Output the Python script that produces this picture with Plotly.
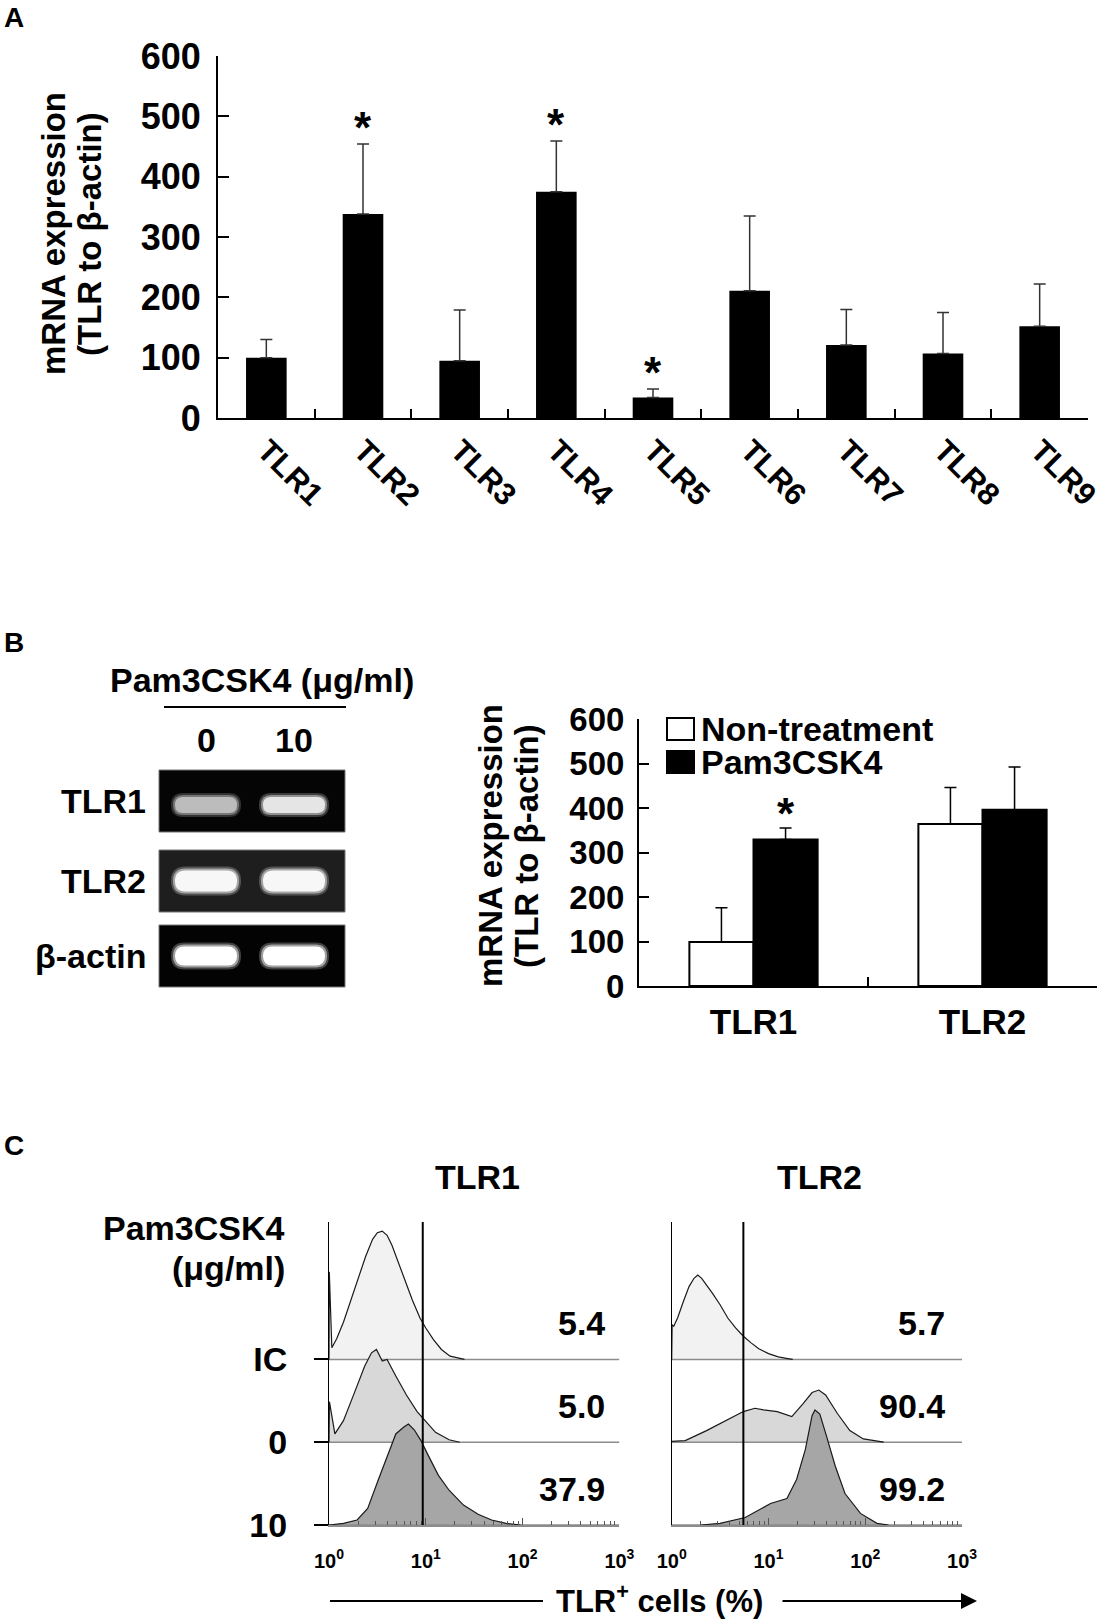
import plotly.graph_objects as go

W, H = 1103, 1621
FONT = "Liberation Sans, Arial, sans-serif"

# ---- panel A: TLR mRNA expression ----
tlr_names = ["TLR1", "TLR2", "TLR3", "TLR4", "TLR5", "TLR6", "TLR7", "TLR8", "TLR9"]
a_mean = [100, 338, 95, 375, 34, 211, 121, 107, 152]
a_sd = [30, 116, 84, 84, 14, 124, 59, 68, 70]
a_sig = [False, True, False, True, True, False, False, False, False]

# ---- panel B: RT-PCR after Pam3CSK4 ----
b_genes = ["TLR1", "TLR2"]
b_ctrl = [99, 364]
b_ctrl_sd = [77, 82]
b_pam = [329, 396]
b_pam_sd = [26, 96]
b_pam_sig = [True, False]

gel_rows = ["TLR1", "TLR2", "β-actin"]
gel_doses = ["0", "10"]
gel_levels = [[0.74, 0.90], [0.97, 0.97], [1.0, 1.0]]

# ---- panel C: flow cytometry histograms (fluorescence, relative count) ----
row_names = ["10", "0", "IC"]  # bottom to top

tlr1_ic_fl = [1.0, 1.007, 1.07, 1.20, 1.41, 1.66, 2.00, 2.40, 2.82, 3.16, 3.55, 3.98,
              4.47, 5.01, 6.03, 7.24, 8.71, 10.0, 12.0, 14.5, 17.8, 22.4, 25.1]
tlr1_ic_h = [0, 1.06, 0.14, 0.25, 0.45, 0.70, 0.98, 1.25, 1.45, 1.53, 1.55, 1.50,
             1.38, 1.22, 0.98, 0.72, 0.50, 0.38, 0.24, 0.12, 0.04, 0.01, 0]
tlr1_0_fl = [1.0, 1.01, 1.15, 1.41, 1.82, 2.34, 2.75, 3.09, 3.55, 3.98, 4.90, 6.31,
             8.13, 9.77, 12.6, 17.4, 22.4]
tlr1_0_h = [0, 0.49, 0.10, 0.26, 0.59, 0.92, 1.08, 1.12, 0.98, 1.00, 0.80, 0.57,
            0.37, 0.27, 0.12, 0.03, 0]
tlr1_10_fl = [1.0, 1.41, 1.95, 2.51, 3.24, 4.17, 4.90, 5.89, 6.61, 7.59, 8.91, 10.5,
              13.5, 17.4, 24.5, 34.7, 47.9, 67.6, 95.5]
tlr1_10_h = [0, 0.02, 0.06, 0.20, 0.55, 0.90, 1.10, 1.18, 1.22, 1.15, 1.02, 0.85,
             0.60, 0.42, 0.24, 0.13, 0.06, 0.02, 0]

tlr2_ic_fl = [1.0, 1.01, 1.05, 1.15, 1.32, 1.51, 1.70, 1.86, 2.04, 2.29, 2.63, 3.16,
              3.80, 4.57, 5.50, 6.61, 7.94, 10.0, 12.6, 15.8, 17.8]
tlr2_ic_h = [0, 0.42, 0.40, 0.50, 0.70, 0.88, 0.98, 1.02, 0.98, 0.90, 0.80, 0.66,
             0.50, 0.38, 0.28, 0.20, 0.13, 0.07, 0.03, 0.01, 0]
tlr2_0_fl = [1.0, 1.38, 2.29, 3.98, 5.50, 7.24, 8.91, 12.3, 17.4, 22.9, 28.2, 33.1,
             38.9, 51.3, 69.2, 95.5, 155]
tlr2_0_h = [0.01, 0.02, 0.14, 0.28, 0.37, 0.41, 0.39, 0.37, 0.31, 0.47, 0.60, 0.63,
            0.57, 0.35, 0.14, 0.04, 0]
tlr2_10_fl = [2.00, 3.16, 5.75, 10.5, 15.5, 19.5, 24.0, 28.2, 30.2, 33.9, 39.8, 49.0,
              61.7, 89.1, 132, 174]
tlr2_10_h = [0, 0.02, 0.09, 0.26, 0.32, 0.55, 0.91, 1.32, 1.39, 1.34, 1.07, 0.71,
             0.38, 0.14, 0.02, 0]

tlr1_gate = 9.3
tlr2_gate = 5.5
tlr1_pct = ["37.9", "5.0", "5.4"]  # rows 10, 0, IC
tlr2_pct = ["99.2", "90.4", "5.7"]
row_fills = ["#a6a6a6", "#d8d8d8", "#f2f2f2"]


def fx(px):
    return px / W


def fy(py):
    return 1 - py / H


def bold(s):
    return "<b>" + s + "</b>"


def label(x, y, text, size, xanchor="center", **kw):
    d = dict(x=fx(x), y=fy(y), xref="paper", yref="paper", text=bold(text),
             showarrow=False, xanchor=xanchor, yanchor="middle",
             font=dict(size=size, family=FONT, color="black"))
    d.update(kw)
    return d


fig = go.Figure()

# panel A bars
fig.add_trace(
    go.Bar(
        x=tlr_names, y=a_mean, width=0.42, offset=-0.21,
        marker=dict(color="black", line=dict(width=0)),
        error_y=dict(type="data", array=a_sd, arrayminus=[0] * len(a_sd),
                     symmetric=False, color="#333333", thickness=1.5, width=6),
        xaxis="x", yaxis="y", showlegend=False,
    )
)

# panel B bars
fig.add_trace(
    go.Bar(
        x=b_genes, y=b_ctrl, width=0.28, offset=-0.28, name="Non-treatment",
        marker=dict(color="white", line=dict(color="black", width=2)),
        error_y=dict(type="data", array=b_ctrl_sd, arrayminus=[0, 0],
                     symmetric=False, color="black", thickness=1.5, width=6),
        xaxis="x2", yaxis="y2", showlegend=False,
    )
)
fig.add_trace(
    go.Bar(
        x=b_genes, y=b_pam, width=0.28, offset=0, name="Pam3CSK4",
        marker=dict(color="black", line=dict(color="black", width=2)),
        error_y=dict(type="data", array=b_pam_sd, arrayminus=[0, 0],
                     symmetric=False, color="black", thickness=1.5, width=6),
        xaxis="x2", yaxis="y2", showlegend=False,
    )
)

# panel C histograms, drawn top row first so lower rows sit in front
hist_sets = [
    ("x3", "y3", [(tlr1_10_fl, tlr1_10_h), (tlr1_0_fl, tlr1_0_h), (tlr1_ic_fl, tlr1_ic_h)]),
    ("x4", "y4", [(tlr2_10_fl, tlr2_10_h), (tlr2_0_fl, tlr2_0_h), (tlr2_ic_fl, tlr2_ic_h)]),
]
for xa, ya, rows in hist_sets:
    for r in [2, 1, 0]:
        fl, h = rows[r]
        fig.add_trace(go.Scatter(
            x=fl + fl[::-1], y=[r + v for v in h] + [r] * len(fl),
            fill="toself", fillcolor=row_fills[r], mode="lines",
            line=dict(width=0), xaxis=xa, yaxis=ya, showlegend=False,
            hoverinfo="skip",
        ))
        fig.add_trace(go.Scatter(
            x=[1, 1000], y=[r, r], mode="lines", line=dict(color="#8c8c8c", width=1.5),
            xaxis=xa, yaxis=ya, showlegend=False, hoverinfo="skip",
        ))
        fig.add_trace(go.Scatter(
            x=fl, y=[r + v for v in h], mode="lines",
            line=dict(color="#1a1a1a", width=1.2),
            xaxis=xa, yaxis=ya, showlegend=False,
        ))


def tfont(size):
    return dict(family=FONT, size=size, color="black", weight="bold")


common = dict(showgrid=False, zeroline=False, showline=True, linecolor="black",
              fixedrange=True)

minor_vals = [m * 10 ** k for k in range(3) for m in range(2, 10)]
flow_x = dict(
    type="log", range=[0, 3], tickvals=[1, 10, 100, 1000],
    ticktext=["10<sup>0</sup>", "10<sup>1</sup>", "10<sup>2</sup>", "10<sup>3</sup>"],
    ticks="inside", ticklen=7, tickwidth=1, tickcolor="#555555",
    tickfont=tfont(20), ticklabelstandoff=17,
    minor=dict(tickvals=minor_vals, ticks="inside", ticklen=4, tickwidth=1,
               tickcolor="#555555"),
    showgrid=False, zeroline=False, showline=True, linecolor="#8c8c8c", linewidth=1.5,
    fixedrange=True,
)
flow_y = dict(range=[0, 3.66], showgrid=False, zeroline=False, showline=True,
              linecolor="black", linewidth=1, fixedrange=True)

fig.update_layout(
    width=W, height=H, margin=dict(l=0, r=0, t=0, b=0, autoexpand=False),
    plot_bgcolor="white", paper_bgcolor="white",
    font=dict(family=FONT, color="black"),
    barmode="overlay",
    xaxis=dict(domain=[fx(218), fx(1088)], range=[-0.5, 8.5], anchor="y",
               ticks="inside", tickson="boundaries", ticklen=9, tickwidth=2,
               tickcolor="black", tickangle=45, tickfont=tfont(31), linewidth=2,
               ticklabelstandoff=0, **common),
    yaxis=dict(domain=[fy(418), fy(56)], range=[0, 600], dtick=100, anchor="x",
               ticks="inside", ticklen=11, tickwidth=2, tickcolor="black",
               tickfont=tfont(36), ticklabelstandoff=8, linewidth=2, **common),
    xaxis2=dict(domain=[fx(639), fx(1097)], range=[-0.5, 1.5], anchor="y2",
                ticks="inside", tickson="boundaries", ticklen=9, tickwidth=2,
                tickcolor="black", tickfont=tfont(35), ticklabelstandoff=4,
                linewidth=2, **common),
    yaxis2=dict(domain=[fy(986), fy(719)], range=[0, 600], dtick=100, anchor="x2",
                ticks="inside", ticklen=10, tickwidth=2, tickcolor="black",
                tickfont=tfont(33), ticklabelstandoff=6, linewidth=2, **common),
    xaxis3=dict(domain=[fx(329), fx(619.4)], anchor="y3", **flow_x),
    yaxis3=dict(domain=[fy(1525), fy(1222)], anchor="x3", tickvals=[0, 1, 2],
                ticktext=row_names, ticks="outside", ticklen=14, tickwidth=2,
                tickcolor="black", tickfont=tfont(34), ticklabelstandoff=20, **flow_y),
    xaxis4=dict(domain=[fx(671.7), fx(962.1)], anchor="y4", **flow_x),
    yaxis4=dict(domain=[fy(1525), fy(1222)], anchor="x4", showticklabels=False,
                ticks="", **flow_y),
)

shapes = []
ann = []

# panel letters
for letter, ypx in [("A", 17), ("B", 642), ("C", 1145)]:
    ann.append(label(2, ypx, letter, 28, xanchor="left"))

# y titles, one annotation per line
for x1, x2, yc in [(53, 89, 234), (490, 526, 846)]:
    ann.append(label(x1, yc, "mRNA expression", 33, textangle=-90))
    ann.append(label(x2, yc, "(TLR to β-actin)", 33, textangle=-90))

# significance stars
for i, s in enumerate(a_sig):
    if s:
        ann.append(dict(x=i, y=a_mean[i] + a_sd[i], xref="x", yref="y", text=bold("*"),
                        showarrow=False, xanchor="center", yanchor="bottom", yshift=-10,
                        font=dict(size=44, family=FONT)))
for i, s in enumerate(b_pam_sig):
    if s:
        ann.append(dict(x=i + 0.14, y=b_pam[i] + b_pam_sd[i], xref="x2", yref="y2",
                        text=bold("*"), showarrow=False, xanchor="center",
                        yanchor="bottom", yshift=-12, font=dict(size=44, family=FONT)))

# panel B legend
for (y0, y1), col, name in [((718, 740), "white", "Non-treatment"),
                             ((751, 773), "black", "Pam3CSK4")]:
    shapes.append(dict(type="rect", xref="paper", yref="paper", x0=fx(667), x1=fx(694),
                       y0=fy(y1), y1=fy(y0), fillcolor=col,
                       line=dict(color="black", width=2)))
    ann.append(label(699, (y0 + y1) / 2, name, 34, xanchor="left"))

# gel
ann.append(label(262, 680, "Pam3CSK4 (μg/ml)", 34))
shapes.append(dict(type="line", xref="paper", yref="paper", x0=fx(164), x1=fx(346),
                   y0=fy(707), y1=fy(707), line=dict(color="black", width=2)))
lane_x = [206, 294]
for j, d in enumerate(gel_doses):
    ann.append(label(lane_x[j], 740, d, 34))

box_y = [(770, 832), (850, 912), (925, 987)]
box_bg = ["#050505", "#1e1e1e", "#030303"]
band_h = [16, 21, 19]


def capsule(xc, yc, w, h):
    x0, x1 = fx(xc - w / 2), fx(xc + w / 2)
    y0, y1 = fy(yc + h / 2), fy(yc - h / 2)
    r = fx(h / 2)
    return (f"M {x0 + r},{y0} L {x1 - r},{y0} Q {x1},{y0} {x1},{(y0 + y1) / 2} "
            f"Q {x1},{y1} {x1 - r},{y1} L {x0 + r},{y1} Q {x0},{y1} {x0},{(y0 + y1) / 2} "
            f"Q {x0},{y0} {x0 + r},{y0} Z")


for r, name in enumerate(gel_rows):
    ya, yb = box_y[r]
    shapes.append(dict(type="rect", xref="paper", yref="paper", x0=fx(159), x1=fx(345),
                       y0=fy(yb), y1=fy(ya), fillcolor=box_bg[r],
                       line=dict(color="#777777", width=1)))
    ann.append(label(148, (ya + yb) / 2, name, 34, xanchor="right"))
    yc = (ya + yb) / 2 + (4 if r == 0 else 0)
    for j, lvl in enumerate(gel_levels[r]):
        g = int(255 * lvl)
        for grow, alpha in [(8, 0.25), (4, 0.5), (0, 1.0)]:
            shapes.append(dict(type="path", xref="paper", yref="paper",
                               path=capsule(lane_x[j], yc, 62 + grow, band_h[r] + grow),
                               fillcolor=f"rgba({g},{g},{g},{alpha})", line=dict(width=0)))

# panel C labels
for xa, title in [("x3", "TLR1"), ("x4", "TLR2")]:
    ann.append(dict(x=0.51, y=fy(1177), xref=f"{xa} domain", yref="paper",
                    text=bold(title), showarrow=False, xanchor="center",
                    yanchor="middle", font=dict(size=34, family=FONT)))
ann.append(label(287, 1228, "Pam3CSK4", 34, xanchor="right"))
ann.append(label(287, 1268, "(μg/ml)", 34, xanchor="right"))
for xa, ya, pct, xpos in [("x3", "y3", tlr1_pct, 0.956), ("x4", "y4", tlr2_pct, 0.947)]:
    for r, t in enumerate(pct):
        ann.append(dict(x=xpos, y=r + 0.44, xref=f"{xa} domain", yref=ya, text=bold(t),
                        showarrow=False, xanchor="right", yanchor="middle",
                        font=dict(size=34, family=FONT)))
for xa, g in [("x3", tlr1_gate), ("x4", tlr2_gate)]:
    shapes.append(dict(type="line", xref=xa, yref=f"y{xa[1]} domain", x0=g, x1=g,
                       y0=0, y1=1, line=dict(color="black", width=2)))

# bottom arrow label
arrow_y = 1601
shapes.append(dict(type="line", xref="paper", yref="paper", x0=fx(330), x1=fx(543),
                   y0=fy(arrow_y), y1=fy(arrow_y), line=dict(color="black", width=2)))
ann.append(label(659, 1599, "TLR<sup>+</sup> cells (%)", 31))
ann.append(dict(x=fx(977), y=fy(arrow_y), xref="paper", yref="paper", text="",
                showarrow=True, ax=781 - 977, ay=0, arrowhead=2, arrowsize=1.6,
                arrowwidth=2, arrowcolor="black", standoff=0))

fig.update_layout(shapes=shapes, annotations=ann)
fig.write_html(
    "out.html",
    config={"displayModeBar": False},
    post_script="document.body.style.margin='0';document.body.style.overflow='hidden';",
)
